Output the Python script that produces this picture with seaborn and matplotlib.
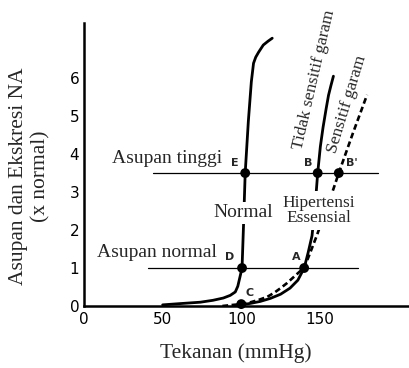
import matplotlib
matplotlib.use("Agg")
import matplotlib.pyplot as plt
import seaborn as sns
import pandas as pd

# ---- data ----
normal_x = [50, 60, 74, 82, 88.6, 93, 96.2, 97.8, 98.7, 100.5, 101.5, 102.5, 104.5,
            106.4, 107.8, 109.2, 111, 114, 117, 119.7]
normal_y = [0.03, 0.06, 0.1, 0.15, 0.21, 0.28, 0.37, 0.52, 0.68, 1.0, 2.2, 3.5, 4.86,
            5.9, 6.39, 6.55, 6.68, 6.87, 6.97, 7.05]

tidak_x = [100, 106, 112, 118.5, 125, 131, 136, 140, 142.5, 145, 147.3, 148.6,
           150.3, 152, 154, 155.5, 157, 158.6]
tidak_y = [0.03, 0.07, 0.12, 0.2, 0.31, 0.47, 0.68, 1.0, 1.4, 1.85, 2.8, 3.5,
           4.2, 4.7, 5.2, 5.55, 5.8, 6.05]

sensitif_x = [88, 95, 100, 106, 111, 116.5, 121, 125, 129, 133, 137, 140, 144,
              148, 158.6, 162, 171, 180]
sensitif_y = [0.0, 0.03, 0.05, 0.1, 0.16, 0.24, 0.35, 0.47, 0.6, 0.75, 0.9, 1.0,
              1.42, 1.85, 3.08, 3.5, 4.55, 5.56]

intake_high_x = [44, 187]
intake_high_y = [3.5, 3.5]
intake_norm_x = [41, 174]
intake_norm_y = [1.0, 1.0]

point_names = ["E", "B", "B'", "D", "A", "C"]
point_x = [102.5, 148.6, 162, 100.5, 140, 100]
point_y = [3.5, 3.5, 3.5, 1.0, 1.0, 0.05]
label_x = [96, 142.5, 170.5, 92.5, 135, 105.5]
label_y = [3.76, 3.76, 3.76, 1.29, 1.29, 0.34]

x_ticks = [0, 50, 100, 150]
y_ticks = [0, 1, 2, 3, 4, 5, 6]

# ---- style ----
sns.set_style("white")
plt.rcParams["font.family"] = ["DejaVu Sans"]
SERIF = ["Liberation Serif", "DejaVu Serif"]

fig = plt.figure(figsize=(4.10, 3.68), dpi=100)
ax = fig.add_axes([84 / 410, 62 / 368, 326 / 410, 283 / 368])

lw_curve = 2.0
sns.lineplot(x=normal_x, y=normal_y, sort=False, estimator=None, color="black",
             lw=lw_curve, ax=ax)
sns.lineplot(x=tidak_x, y=tidak_y, sort=False, estimator=None, color="black",
             lw=lw_curve, ax=ax)
sns.lineplot(x=sensitif_x, y=sensitif_y, sort=False, estimator=None, color="black",
             lw=1.9, ax=ax, dashes=False)
ax.lines[-1].set_dashes((2.2, 1.3))
sns.lineplot(x=intake_high_x, y=intake_high_y, color="black", lw=0.9, ax=ax)
sns.lineplot(x=intake_norm_x, y=intake_norm_y, color="black", lw=0.9, ax=ax)

pts = pd.DataFrame({"x": point_x, "y": point_y, "name": point_names})
sns.scatterplot(data=pts, x="x", y="y", color="black", s=50, edgecolor="none",
                ax=ax, zorder=5, clip_on=False)

for n, lx, ly in zip(point_names, label_x, label_y):
    ax.text(lx, ly, n, ha="center", va="center", fontsize=8, fontweight="bold")

# text labels
ax.text(52.8, 3.89, "Asupan tinggi", family=SERIF, fontsize=14, ha="center", va="center")
ax.text(46.4, 1.42, "Asupan normal", family=SERIF, fontsize=14, ha="center", va="center")
ax.text(101.1, 2.45, "Normal", family=SERIF, fontsize=14, ha="center", va="center",
        bbox=dict(facecolor="white", edgecolor="none", pad=1.5), zorder=4)
ax.text(149.5, 2.51, "Hipertensi\nEssensial", family=SERIF, fontsize=12.5,
        ha="center", va="center", linespacing=0.95,
        bbox=dict(facecolor="white", edgecolor="none", pad=2.5), zorder=4)
ax.text(146.3, 5.95, "Tidak sensitif garam", family=SERIF, fontsize=12.5,
        ha="center", va="center", rotation=77, rotation_mode="anchor")
ax.text(167.3, 5.32, "Sensitif garam", family=SERIF, fontsize=12.5,
        ha="center", va="center", rotation=73, rotation_mode="anchor")

# axes
ax.set_xlim(0, 207.3)
ax.set_ylim(0, 7.45)
ax.set_xticks(x_ticks)
ax.set_yticks(y_ticks)
ax.set_xticklabels([str(t) for t in x_ticks])
ax.set_yticklabels([str(t) for t in y_ticks])
ax.tick_params(direction="in", length=4, width=1.3, labelsize=11, colors="black")
ax.tick_params(axis="x", pad=4)
ax.tick_params(axis="y", pad=3.5)
for s in ["top", "right"]:
    ax.spines[s].set_visible(False)
for s in ["left", "bottom"]:
    ax.spines[s].set_linewidth(1.8)
    ax.spines[s].set_color("black")

ax.set_xlabel("Tekanan (mmHg)", family=SERIF, fontsize=15.5, va="center", ha="center")
ax.xaxis.set_label_coords((236 - 84) / 326, (306 - 353) / 283)
ax.set_ylabel("Asupan dan Ekskresi NA\n(x normal)", family=SERIF, fontsize=15.5,
              va="center", ha="center", linespacing=1.2)
ax.yaxis.set_label_coords((30 - 84) / 326, (306 - 176) / 283)

fig.savefig("out.png", dpi=100)
